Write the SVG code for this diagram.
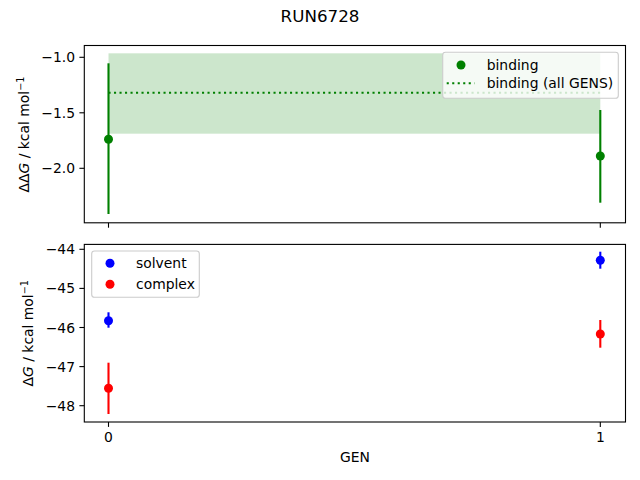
<svg xmlns="http://www.w3.org/2000/svg" width="640" height="480" viewBox="0 0 640 480">
<style>
text{font-family:"DejaVu Sans",sans-serif;font-size:13.9px;fill:#000}
.tl{text-anchor:end}
.tc{text-anchor:middle}
.spine{fill:none;stroke:#000;stroke-width:1.1}
.tick{stroke:#000;stroke-width:1.1}
.eg{stroke:#008000;stroke-width:2.1}
.eb{stroke:#0000ff;stroke-width:2.1}
.er{stroke:#ff0000;stroke-width:2.1}
.leg{fill:#fff;fill-opacity:0.8;stroke:#cccccc;stroke-width:1.1}
</style>
<rect width="640" height="480" fill="#fff"/>
<text class="tc" x="320" y="22" style="font-size:16.7px">RUN6728</text>

<g id="top-axes">
  <rect x="108.5" y="53.3" width="491.8" height="80.4" fill="#008000" fill-opacity="0.2"/>
  <line x1="108.5" y1="92.7" x2="600.3" y2="92.7" stroke="#008000" stroke-width="2.1" stroke-dasharray="2.1,3.4"/>
  <g id="binding-0">
    <line class="eg" x1="108.5" y1="63.3" x2="108.5" y2="214"/>
    <circle cx="108.5" cy="139.3" r="4.5" fill="#008000"/>
  </g>
  <g id="binding-1">
    <line class="eg" x1="600.3" y1="110" x2="600.3" y2="202.7"/>
    <circle cx="600.3" cy="156" r="4.5" fill="#008000"/>
  </g>
  <rect class="spine" x="84.3" y="45.5" width="541.2" height="177.3"/>
  <line class="tick" x1="108.5" y1="222.8" x2="108.5" y2="227.7"/>
  <line class="tick" x1="600.3" y1="222.8" x2="600.3" y2="227.7"/>
  <line class="tick" x1="79.4" y1="57.3" x2="84.3" y2="57.3"/>
  <line class="tick" x1="79.4" y1="112.8" x2="84.3" y2="112.8"/>
  <line class="tick" x1="79.4" y1="168.3" x2="84.3" y2="168.3"/>
  <text class="tl" x="75" y="62.3">−1.0</text>
  <text class="tl" x="75" y="117.8">−1.5</text>
  <text class="tl" x="75" y="173.3">−2.0</text>
  <text class="tc" transform="translate(28.7,134.5) rotate(-90)">ΔΔ<tspan font-style="italic">G</tspan> / kcal mol<tspan dy="-5" style="font-size:9.7px">−1</tspan></text>
  <g id="legend-top">
    <rect class="leg" x="442.7" y="52.3" width="175.6" height="46" rx="2.8"/>
    <circle cx="461" cy="65" r="4.5" fill="#008000"/>
    <text x="486.7" y="70">binding</text>
    <line x1="446.7" y1="83.3" x2="474.5" y2="83.3" stroke="#008000" stroke-width="2.1" stroke-dasharray="2.1,3.4"/>
    <text x="486.7" y="88.3">binding (all GENS)</text>
  </g>
</g>

<g id="bottom-axes">
  <g id="solvent-0">
    <line class="eb" x1="108.5" y1="312.3" x2="108.5" y2="327.7"/>
    <circle cx="108.5" cy="320.7" r="4.5" fill="#0000ff"/>
  </g>
  <g id="complex-0">
    <line class="er" x1="108.5" y1="362.7" x2="108.5" y2="414"/>
    <circle cx="108.5" cy="388.3" r="4.5" fill="#ff0000"/>
  </g>
  <g id="solvent-1">
    <line class="eb" x1="600.3" y1="251.7" x2="600.3" y2="268.7"/>
    <circle cx="600.3" cy="260.3" r="4.5" fill="#0000ff"/>
  </g>
  <g id="complex-1">
    <line class="er" x1="600.3" y1="320" x2="600.3" y2="347.7"/>
    <circle cx="600.3" cy="334" r="4.5" fill="#ff0000"/>
  </g>
  <rect class="spine" x="84.3" y="244.4" width="541.2" height="177.6"/>
  <line class="tick" x1="108.5" y1="422" x2="108.5" y2="426.9"/>
  <line class="tick" x1="600.3" y1="422" x2="600.3" y2="426.9"/>
  <text class="tc" x="108.5" y="441.8">0</text>
  <text class="tc" x="600.3" y="441.8">1</text>
  <text class="tc" x="354.9" y="462">GEN</text>
  <line class="tick" x1="79.4" y1="249.3" x2="84.3" y2="249.3"/>
  <line class="tick" x1="79.4" y1="288.4" x2="84.3" y2="288.4"/>
  <line class="tick" x1="79.4" y1="327.5" x2="84.3" y2="327.5"/>
  <line class="tick" x1="79.4" y1="366.6" x2="84.3" y2="366.6"/>
  <line class="tick" x1="79.4" y1="405.7" x2="84.3" y2="405.7"/>
  <text class="tl" x="75" y="254.3">−44</text>
  <text class="tl" x="75" y="293.4">−45</text>
  <text class="tl" x="75" y="332.5">−46</text>
  <text class="tl" x="75" y="371.6">−47</text>
  <text class="tl" x="75" y="410.7">−48</text>
  <text class="tc" transform="translate(32.5,333.2) rotate(-90)">Δ<tspan font-style="italic">G</tspan> / kcal mol<tspan dy="-5" style="font-size:9.7px">−1</tspan></text>
  <g id="legend-bottom">
    <rect class="leg" x="91.7" y="251" width="107.6" height="46.3" rx="2.8"/>
    <circle cx="110" cy="263.3" r="4.5" fill="#0000ff"/>
    <text x="136" y="267.8">solvent</text>
    <circle cx="110" cy="284.3" r="4.5" fill="#ff0000"/>
    <text x="136" y="288.8">complex</text>
  </g>
</g>
</svg>
